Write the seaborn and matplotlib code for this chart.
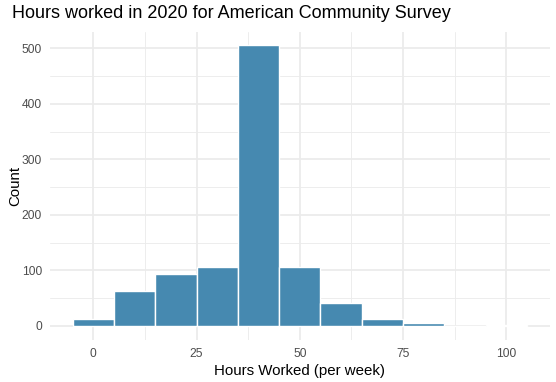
import numpy as np
import pandas as pd
import matplotlib
matplotlib.use("Agg")
import matplotlib.pyplot as plt
import seaborn as sns

# binned counts (bin width 10, centred on multiples of 10)
bin_centers = [0, 10, 20, 30, 40, 50, 60, 70, 80, 90, 100]
counts = [13, 63, 93, 106, 506, 107, 41, 13, 6, 0, 2]
bin_edges = [-5, 5, 15, 25, 35, 45, 55, 65, 75, 85, 95, 105]
x_ticks = [0, 25, 50, 75, 100]
y_ticks = [0, 100, 200, 300, 400, 500]

df = pd.DataFrame({"hours": bin_centers, "n": counts})

sns.set_style("white")
plt.rcParams["font.family"] = ["Liberation Sans", "DejaVu Sans"]

fig = plt.figure(figsize=(556 / 72, 382 / 72), dpi=72)
ax = fig.add_axes([50 / 556, 1 - 340 / 382, (549.7 - 50) / 556, (340 - 31.7) / 382])

sns.histplot(data=df, x="hours", weights="n", bins=bin_edges, ax=ax,
             color="#4689B0", alpha=1, edgecolor="white", linewidth=1.4, zorder=3)

ax.set_xlim(-10.5, 110.5)
ax.set_ylim(-25.25, 530.25)
ax.set_xticks(x_ticks)
ax.set_yticks(y_ticks)
ax.set_xticks([12.5, 37.5, 62.5, 87.5], minor=True)
ax.set_yticks([50, 150, 250, 350, 450], minor=True)
ax.grid(which="major", color="#EBEBEB", linewidth=1.8, zorder=0)
ax.grid(which="minor", color="#EBEBEB", linewidth=0.9, zorder=0)
ax.set_axisbelow(True)
for s in ax.spines.values():
    s.set_visible(False)
ax.tick_params(which="both", length=0, labelsize=12, labelcolor="#4D4D4D", pad=8)

ax.set_xlabel("Hours Worked (per week)", fontsize=15, color="black", labelpad=4)
ax.set_ylabel("Count", fontsize=15, color="black", labelpad=0)
fig.text(12 / 556, 1 - 13 / 382, "Hours worked in 2020 for American Community Survey",
         fontsize=18, color="black", ha="left", va="center")

fig.savefig("out.png", dpi=72)
